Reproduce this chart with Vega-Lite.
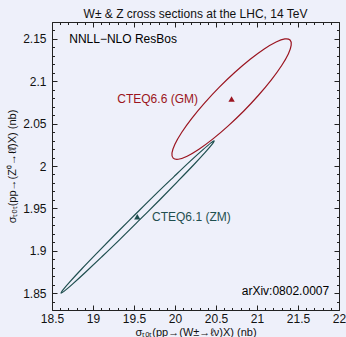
{
  "$schema": "https://vega.github.io/schema/vega-lite/v6.json",
  "width": 287,
  "height": 288,
  "autosize": {"type": "none"},
  "padding": {"left": 52, "top": 22, "right": 7, "bottom": 27},
  "background": "#eef0fa",
  "title": {"text": "W± & Z cross sections at the LHC, 14 TeV", "fontSize": 12, "fontWeight": "normal", "font": "Liberation Sans", "color": "#111", "offset": -5, "anchor": "middle"},
  "datasets": {
    "ell": [
      {"s": "GM", "i": 0, "x": 21.403, "y": 2.1487},
      {"s": "GM", "i": 1, "x": 21.417, "y": 2.1427},
      {"s": "GM", "i": 2, "x": 21.382, "y": 2.1323},
      {"s": "GM", "i": 3, "x": 21.299, "y": 2.1184},
      {"s": "GM", "i": 4, "x": 21.175, "y": 2.1017},
      {"s": "GM", "i": 5, "x": 21.018, "y": 2.0835},
      {"s": "GM", "i": 6, "x": 20.839, "y": 2.0649},
      {"s": "GM", "i": 7, "x": 20.649, "y": 2.0474},
      {"s": "GM", "i": 8, "x": 20.463, "y": 2.032},
      {"s": "GM", "i": 9, "x": 20.292, "y": 2.0198},
      {"s": "GM", "i": 10, "x": 20.148, "y": 2.0116},
      {"s": "GM", "i": 11, "x": 20.040, "y": 2.008},
      {"s": "GM", "i": 12, "x": 19.978, "y": 2.0093},
      {"s": "GM", "i": 13, "x": 19.963, "y": 2.0153},
      {"s": "GM", "i": 14, "x": 19.999, "y": 2.0257},
      {"s": "GM", "i": 15, "x": 20.081, "y": 2.0396},
      {"s": "GM", "i": 16, "x": 20.205, "y": 2.0563},
      {"s": "GM", "i": 17, "x": 20.362, "y": 2.0745},
      {"s": "GM", "i": 18, "x": 20.541, "y": 2.0931},
      {"s": "GM", "i": 19, "x": 20.731, "y": 2.1106},
      {"s": "GM", "i": 20, "x": 20.917, "y": 2.126},
      {"s": "GM", "i": 21, "x": 21.088, "y": 2.1382},
      {"s": "GM", "i": 22, "x": 21.233, "y": 2.1464},
      {"s": "GM", "i": 23, "x": 21.340, "y": 2.15},
      {"s": "ZM", "i": 0, "x": 20.478, "y": 2.0296},
      {"s": "ZM", "i": 1, "x": 20.454, "y": 2.0258},
      {"s": "ZM", "i": 2, "x": 20.368, "y": 2.0161},
      {"s": "ZM", "i": 3, "x": 20.226, "y": 2.0012},
      {"s": "ZM", "i": 4, "x": 20.037, "y": 1.9822},
      {"s": "ZM", "i": 5, "x": 19.815, "y": 1.9602},
      {"s": "ZM", "i": 6, "x": 19.574, "y": 1.9369},
      {"s": "ZM", "i": 7, "x": 19.332, "y": 1.9137},
      {"s": "ZM", "i": 8, "x": 19.103, "y": 1.8924},
      {"s": "ZM", "i": 9, "x": 18.905, "y": 1.8743},
      {"s": "ZM", "i": 10, "x": 18.750, "y": 1.8606},
      {"s": "ZM", "i": 11, "x": 18.650, "y": 1.8523},
      {"s": "ZM", "i": 12, "x": 18.610, "y": 1.85},
      {"s": "ZM", "i": 13, "x": 18.634, "y": 1.8538},
      {"s": "ZM", "i": 14, "x": 18.720, "y": 1.8635},
      {"s": "ZM", "i": 15, "x": 18.862, "y": 1.8784},
      {"s": "ZM", "i": 16, "x": 19.051, "y": 1.8974},
      {"s": "ZM", "i": 17, "x": 19.273, "y": 1.9194},
      {"s": "ZM", "i": 18, "x": 19.514, "y": 1.9427},
      {"s": "ZM", "i": 19, "x": 19.756, "y": 1.9659},
      {"s": "ZM", "i": 20, "x": 19.985, "y": 1.9872},
      {"s": "ZM", "i": 21, "x": 20.183, "y": 2.0054},
      {"s": "ZM", "i": 22, "x": 20.338, "y": 2.019},
      {"s": "ZM", "i": 23, "x": 20.438, "y": 2.0273}
    ],
    "centers": [
      {"s": "GM", "x": 20.69, "y": 2.079},
      {"s": "ZM", "x": 19.54, "y": 1.94}
    ],
    "leftText": [
      {"s": "k", "t": "NNLL−NLO ResBos", "x": 18.71, "y": 2.15},
      {"s": "ZM", "t": "CTEQ6.1 (ZM)", "x": 19.72, "y": 1.94}
    ],
    "rightText": [
      {"s": "GM", "t": "CTEQ6.6 (GM)", "x": 20.28, "y": 2.079},
      {"s": "k", "t": "arXiv:0802.0007", "x": 21.88, "y": 1.852}
    ]
  },
  "layer": [
    {
      "data": {"name": "ell"},
      "mark": {"type": "line", "interpolate": "cardinal-closed", "strokeWidth": 1.2},
      "encoding": {
        "x": {"field": "x", "type": "quantitative", "scale": {"domain": [18.5, 22], "nice": false, "zero": false},
          "axis": {"orient": "bottom", "title": "σₜₒₜ(pp→(W±→ℓν)X) (nb)",
            "values": [18.5,18.6,18.7,18.8,18.9,19,19.1,19.2,19.3,19.4,19.5,19.6,19.7,19.8,19.9,20,20.1,20.2,20.3,20.4,20.5,20.6,20.7,20.8,20.9,21,21.1,21.2,21.3,21.4,21.5,21.6,21.7,21.8,21.9,22],
            "labelExpr": "abs(datum.value*2-round(datum.value*2))<0.001 ? format(datum.value,'~g') : ''",
            "tickSize": {"condition": {"test": "abs(datum.value*2-round(datum.value*2))<0.001", "value": -5}, "value": -2.5},
            "labelPadding": 8, "titlePadding": 0}},
        "y": {"field": "y", "type": "quantitative", "scale": {"domain": [1.83, 2.17], "nice": false, "zero": false},
          "axis": {"orient": "left", "title": "σₜₒₜ(pp→(Z⁰→ℓℓ̄)X) (nb)",
            "values": [1.83,1.84,1.85,1.86,1.87,1.88,1.89,1.9,1.91,1.92,1.93,1.94,1.95,1.96,1.97,1.98,1.99,2,2.01,2.02,2.03,2.04,2.05,2.06,2.07,2.08,2.09,2.1,2.11,2.12,2.13,2.14,2.15,2.16,2.17],
            "labelExpr": "abs(datum.value*20-round(datum.value*20))<0.001 ? format(datum.value,'~g') : ''",
            "tickSize": {"condition": {"test": "abs(datum.value*20-round(datum.value*20))<0.001", "value": -5}, "value": -2.5},
            "labelPadding": 11, "titlePadding": 5}},
        "color": {"field": "s", "type": "nominal", "scale": {"domain": ["GM", "ZM", "k"], "range": ["#9b1520", "#1f4f4f", "#000000"]}, "legend": null},
        "detail": {"field": "s"},
        "order": {"field": "i", "type": "quantitative"}
      }
    },
    {
      "data": {"name": "centers"},
      "mark": {"type": "point", "shape": "triangle-up", "filled": true, "size": 40, "opacity": 1},
      "encoding": {
        "x": {"field": "x", "type": "quantitative",
          "axis": {"orient": "top", "title": null, "labels": false,
            "values": [18.5,18.6,18.7,18.8,18.9,19,19.1,19.2,19.3,19.4,19.5,19.6,19.7,19.8,19.9,20,20.1,20.2,20.3,20.4,20.5,20.6,20.7,20.8,20.9,21,21.1,21.2,21.3,21.4,21.5,21.6,21.7,21.8,21.9,22],
            "tickSize": {"condition": {"test": "abs(datum.value*2-round(datum.value*2))<0.001", "value": -5}, "value": -2.5}}},
        "y": {"field": "y", "type": "quantitative",
          "axis": {"orient": "right", "title": null, "labels": false,
            "values": [1.83,1.84,1.85,1.86,1.87,1.88,1.89,1.9,1.91,1.92,1.93,1.94,1.95,1.96,1.97,1.98,1.99,2,2.01,2.02,2.03,2.04,2.05,2.06,2.07,2.08,2.09,2.1,2.11,2.12,2.13,2.14,2.15,2.16,2.17],
            "tickSize": {"condition": {"test": "abs(datum.value*20-round(datum.value*20))<0.001", "value": -5}, "value": -2.5}}},
        "color": {"field": "s", "type": "nominal", "legend": null}
      }
    },
    {
      "data": {"name": "leftText"},
      "mark": {"type": "text", "align": "left", "baseline": "middle", "fontSize": 12, "font": "Liberation Sans"},
      "encoding": {
        "x": {"field": "x", "type": "quantitative", "axis": null},
        "y": {"field": "y", "type": "quantitative", "axis": null},
        "text": {"field": "t"},
        "color": {"field": "s", "type": "nominal", "legend": null}
      }
    },
    {
      "data": {"name": "rightText"},
      "mark": {"type": "text", "align": "right", "baseline": "middle", "fontSize": 12, "font": "Liberation Sans"},
      "encoding": {
        "x": {"field": "x", "type": "quantitative", "axis": null},
        "y": {"field": "y", "type": "quantitative", "axis": null},
        "text": {"field": "t"},
        "color": {"field": "s", "type": "nominal", "legend": null}
      }
    }
  ],
  "resolve": {"axis": {"x": "independent", "y": "independent"}},
  "config": {
    "view": {"stroke": "#222222", "strokeWidth": 1, "fill": "#eef0fa"},
    "font": "Liberation Sans",
    "axis": {"domain": false, "grid": false, "tickColor": "#222222", "tickWidth": 1, "labelFont": "Liberation Sans", "labelFontSize": 12, "labelColor": "#111111", "titleFont": "Liberation Sans", "titleFontSize": 11, "titleFontWeight": "normal", "titleColor": "#111111", "labelFlush": false, "labelOverlap": false}
  }
}
